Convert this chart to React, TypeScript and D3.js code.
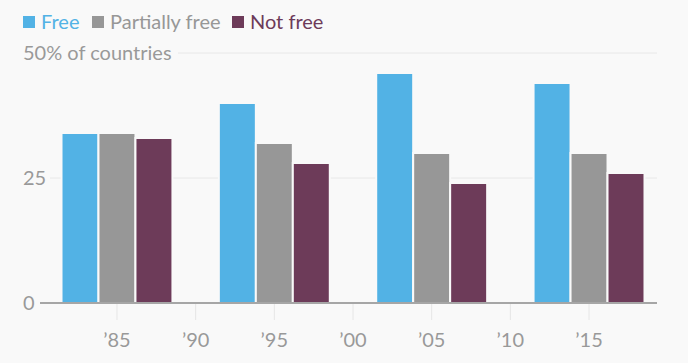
import React from 'react';
import * as d3 from 'd3';

const years = [1985, 1995, 2005, 2015];
const series = ['Free', 'Partially free', 'Not free'];
const free = [34, 40, 46, 44];
const partiallyFree = [34, 32, 30, 30];
const notFree = [33, 28, 24, 26];
const xTicks = [1985, 1990, 1995, 2000, 2005, 2010, 2015];
const yTicks = [0, 25, 50];

const colors = ['#52b2e5', '#979797', '#6d3b59'];
const W = 688;
const H = 363;
const font = 'Lato, "Open Sans", sans-serif';

export default function App() {
  const values = [free, partiallyFree, notFree];

  // x is a year scale; bars are grouped around each year
  const x = d3.scaleLinear().domain([1980, 2020]).range([38.3, 667.7]);
  const y = d3.scaleLinear().domain([0, 50]).range([303, 53]);
  const half = (x(1985) - x(1980)) * 0.705;
  const inner = d3.scaleBand<string>().domain(series).range([-half, half]).padding(0);

  const left = 40;
  const right = 657;
  const legendX = [23, 92, 232];

  return (
    <div style={{ position: 'absolute', left: 0, top: 0 }}>
      <svg width={W} height={H} style={{ display: 'block', background: '#f9f9f9' }} fontFamily={font}>
        {/* legend */}
        {series.map((s, i) => (
          <g key={s} transform={`translate(${legendX[i]},0)`}>
            <rect x={0} y={16} width={12} height={12} fill={colors[i]} />
            <text x={18} y={29} fontSize={20} fill={colors[i]}>{s}</text>
          </g>
        ))}

        {/* gridlines */}
        {yTicks.map(t => (
          <g key={t}>
            {t > 0 && (
              <line x1={t === 50 ? 178 : 50} x2={right} y1={y(t)} y2={y(t)} stroke="#e8e8e8" strokeWidth={1} />
            )}
            <text x={23} y={y(t)} dy="0.36em" fontSize={20} fill="#999">
              {t === 50 ? '50% of countries' : t}
            </text>
          </g>
        ))}

        {/* x ticks */}
        {xTicks.map(t => (
          <g key={t}>
            <line x1={x(t)} x2={x(t)} y1={303} y2={320} stroke="#e6e6e6" strokeWidth={1} />
            <text x={x(t)} y={347} textAnchor="middle" fontSize={20} fill="#999">
              {'\u2019' + String(t).slice(2)}
            </text>
          </g>
        ))}

        {/* bars */}
        {years.map((yr, gi) => (
          <g key={yr} transform={`translate(${x(yr)},0)`}>
            {series.map((s, si) => (
              <rect
                key={s}
                x={inner(s)}
                y={y(values[si][gi])}
                width={inner.bandwidth()}
                height={y(0) - y(values[si][gi])}
                fill={colors[si]}
                stroke="#f9f9f9"
                strokeWidth={2}
              />
            ))}
          </g>
        ))}

        {/* baseline */}
        <line x1={left} x2={right} y1={303} y2={303} stroke="#a6a6a6" strokeWidth={2} />
      </svg>
    </div>
  );
}
